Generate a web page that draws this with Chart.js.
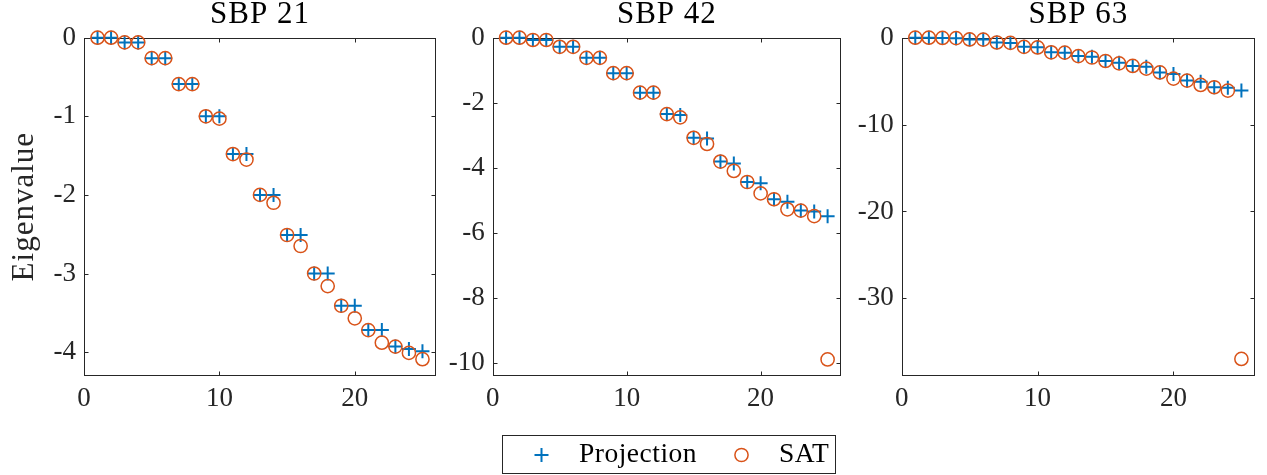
<!DOCTYPE html>
<html>
<head>
<meta charset="utf-8">
<script src="https://cdn.jsdelivr.net/npm/chart.js@4/dist/chart.umd.min.js"></script>
<style>
  html, body { margin: 0; padding: 0; background: #fff; }
  body { width: 1267px; height: 475px; position: relative; overflow: hidden; }
  canvas { position: absolute; top: 0; }
</style>
</head>
<body>
<canvas id="p1" width="445" height="475" style="left:0px"></canvas>
<canvas id="p2" width="410" height="475" style="left:440px"></canvas>
<canvas id="p3" width="417" height="475" style="left:850px"></canvas>
<canvas id="legend" width="334" height="39" style="left:502px;top:435px"></canvas>
<script>
// mode index (x) shared by all panels
const modeIndex = [1, 2, 3, 4, 5, 6, 7, 8, 9, 10, 11, 12, 13, 14, 15, 16, 17, 18, 19, 20, 21, 22, 23, 24, 25];

const sbp21Projection = [0, 0, -0.06, -0.06, -0.26, -0.26, -0.59, -0.59, -1.0, -1.0, -1.48, -1.48, -2.0, -2.0,
  -2.51, -2.51, -3.0, -3.0, -3.41, -3.41, -3.72, -3.72, -3.93, -3.96, -3.99];
const sbp21SAT = [0, 0, -0.06, -0.06, -0.26, -0.26, -0.59, -0.59, -1.0, -1.03, -1.48, -1.55, -2.0, -2.1,
  -2.51, -2.65, -3.0, -3.16, -3.41, -3.57, -3.72, -3.88, -3.93, -4.01, -4.09];

const sbp42Projection = [0, 0, -0.07, -0.07, -0.28, -0.28, -0.62, -0.62, -1.09, -1.09, -1.69, -1.69, -2.35, -2.38,
  -3.08, -3.1, -3.81, -3.87, -4.44, -4.48, -4.97, -5.05, -5.32, -5.35, -5.49];
const sbp42SAT = [0, 0, -0.07, -0.07, -0.28, -0.28, -0.62, -0.62, -1.09, -1.09, -1.69, -1.69, -2.35, -2.45,
  -3.08, -3.27, -3.81, -4.1, -4.44, -4.79, -4.97, -5.28, -5.32, -5.49, -9.9];

const sbp63Projection = [0, 0, -0.03, -0.05, -0.2, -0.22, -0.55, -0.6, -1.05, -1.1, -1.68, -1.72, -2.12, -2.2,
  -2.68, -2.87, -3.25, -3.33, -4.0, -4.17, -4.94, -5.06, -5.7, -5.75, -6.09];
const sbp63SAT = [0, 0, -0.03, -0.05, -0.2, -0.22, -0.55, -0.6, -1.05, -1.12, -1.68, -1.72, -2.12, -2.28,
  -2.68, -2.95, -3.25, -3.56, -4.0, -4.71, -4.94, -5.44, -5.7, -6.09, -36.97];

const xTicks = [0, 10, 20];
const xRange = [0, 26];
const yTicks21 = [0, -1, -2, -3, -4];
const yTicks42 = [0, -2, -4, -6, -8, -10];
const yTicks63 = [0, -10, -20, -30];

const BLUE = "#0072BD";
const ORANGE = "#D95319";
const AXIS = "#262626";
const FONT = "'Liberation Serif', 'Times New Roman', serif";

const toPoints = (ys) => modeIndex.map((x, i) => ({ x, y: ys[i] }));

// box with inward ticks on all four sides, plus the panel title and y label
const framePlugin = {
  id: "frame",
  beforeDatasetsDraw(chart) {
    const { ctx, chartArea: a, scales: { x, y } } = chart;
    const L = Math.round(a.left) + 0.5, R = Math.round(a.right) - 0.5;
    const T = Math.round(a.top) + 0.5, B = Math.round(a.bottom) - 0.5;
    ctx.save();
    ctx.strokeStyle = AXIS;
    ctx.lineWidth = 1;
    ctx.strokeRect(L, T, R - L, B - T);
    ctx.beginPath();
    x.ticks.forEach((t) => {
      const px = Math.round(x.getPixelForValue(t.value)) + 0.5;
      ctx.moveTo(px, B); ctx.lineTo(px, B - 4);
      ctx.moveTo(px, T); ctx.lineTo(px, T + 4);
    });
    y.ticks.forEach((t) => {
      const py = Math.round(y.getPixelForValue(t.value)) + 0.5;
      ctx.moveTo(L, py); ctx.lineTo(L + 4, py);
      ctx.moveTo(R, py); ctx.lineTo(R - 4, py);
    });
    ctx.stroke();
    ctx.restore();
  },
  afterDraw(chart, args, opts) {
    const { ctx, chartArea: a } = chart;
    ctx.save();
    ctx.fillStyle = "#000";
    ctx.font = `31px ${FONT}`;
    ctx.letterSpacing = "1px";
    ctx.textAlign = "center";
    ctx.textBaseline = "alphabetic";
    ctx.fillText(opts.title, (a.left + a.right) / 2, a.top - 14.5);
    if (opts.yLabel) {
      ctx.fillStyle = AXIS;
      ctx.translate(33, (a.top + a.bottom) / 2);
      ctx.rotate(-Math.PI / 2);
      ctx.fillText(opts.yLabel, 0, 0);
    }
    ctx.restore();
  },
};

function makePanel(id, title, proj, sat, yMin, yTicks, axisWidth, padRight, yLabel) {
  return new Chart(document.getElementById(id), {
    type: "scatter",
    data: {
      datasets: [
        { label: "SAT", data: toPoints(sat), pointStyle: "circle", pointRadius: 6.6, pointHoverRadius: 6.6,
          borderColor: ORANGE, backgroundColor: "rgba(0,0,0,0)", borderWidth: 1.5, clip: false, order: 0 },
        { label: "Projection", data: toPoints(proj), pointStyle: "cross", pointRadius: 7, pointHoverRadius: 7,
          borderColor: BLUE, backgroundColor: BLUE, borderWidth: 2, clip: false, order: 1 },
      ],
    },
    options: {
      responsive: false,
      animation: false,
      events: [],
      layout: { padding: { top: 37.7, right: padRight, bottom: 0, left: 0 } },
      plugins: { legend: { display: false }, tooltip: { enabled: false }, frame: { title, yLabel } },
      scales: {
        x: {
          type: "linear", min: xRange[0], max: xRange[1],
          afterBuildTicks: (s) => { s.ticks = xTicks.map((v) => ({ value: v })); },
          afterFit: (s) => { s.height = 99.3; },
          grid: { display: false, drawTicks: false },
          border: { display: false },
          ticks: { color: AXIS, font: { family: FONT, size: 27 }, padding: 7, maxRotation: 0 },
        },
        y: {
          type: "linear", min: yMin, max: 0,
          afterBuildTicks: (s) => { s.ticks = yTicks.map((v) => ({ value: v })); },
          afterFit: (s) => { s.width = axisWidth; },
          grid: { display: false, drawTicks: false },
          border: { display: false },
          ticks: { color: AXIS, font: { family: FONT, size: 27 }, padding: 8 },
        },
      },
    },
    plugins: [framePlugin],
  });
}

makePanel("p1", "SBP 21", sbp21Projection, sbp21SAT, -4.3, yTicks21, 84, 7, "Eigenvalue");
makePanel("p2", "SBP 42", sbp42Projection, sbp42SAT, -10.4, yTicks42, 52.7, 4, null);
makePanel("p3", "SBP 63", sbp63Projection, sbp63SAT, -38.9, yTicks63, 51.7, 12, null);

// shared legend below the middle panel
(function drawLegend() {
  const cv = document.getElementById("legend");
  const ctx = cv.getContext("2d");
  ctx.strokeStyle = AXIS;
  ctx.lineWidth = 1;
  ctx.strokeRect(0.5, 0.5, cv.width - 1, cv.height - 1);
  const items = [
    { text: "Projection", style: "cross", color: BLUE, radius: 7, width: 2, mx: 39.5, tx: 77 },
    { text: "SAT", style: "circle", color: ORANGE, radius: 6.6, width: 1.5, mx: 239.5, tx: 277 },
  ];
  items.forEach((it) => {
    ctx.save();
    ctx.strokeStyle = it.color;
    ctx.fillStyle = "rgba(0,0,0,0)";
    ctx.lineWidth = it.width;
    Chart.helpers.drawPoint(ctx, { pointStyle: it.style, radius: it.radius, borderWidth: it.width, rotation: 0 }, it.mx, 20);
    ctx.restore();
    ctx.fillStyle = "#000";
    ctx.font = `27.5px ${FONT}`;
    ctx.letterSpacing = "0.5px";
    ctx.textBaseline = "alphabetic";
    ctx.fillText(it.text, it.tx, 27);
  });
})();
</script>
</body>
</html>
